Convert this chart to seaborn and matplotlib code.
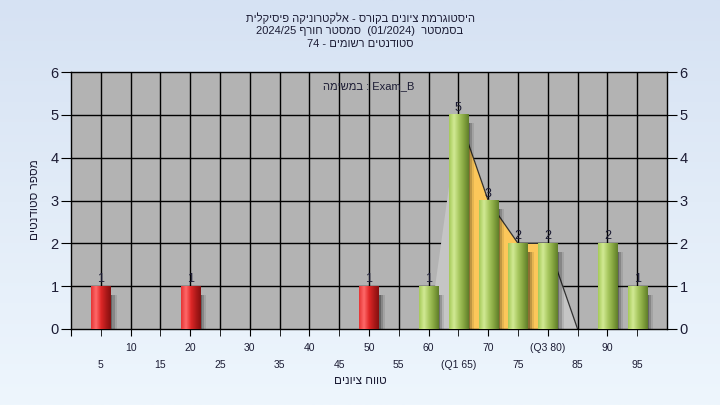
import re
import numpy as np
import pandas as pd
import seaborn as sb
import matplotlib.pyplot as plt
from matplotlib.colors import LinearSegmentedColormap, to_rgb

# ---- data ----
scores = [5, 20, 50, 60, 65, 70, 75, 80, 90, 95]
counts = [1, 1, 1, 1, 5, 3, 2, 2, 2, 1]
band = ['fail', 'fail', 'fail', 'pass', 'pass', 'pass', 'pass', 'pass', 'pass', 'pass']

# outline of the distribution area (grey) and the Q1-Q3 part (yellow)
area_x = [60, 65, 70, 75, 80, 85]
area_y = [0, 5, 3, 2, 2, 0]
q1, q3 = 65, 80

major_ticks = [0, 10, 20, 30, 40, 50, 60, 70, 80, 90]
major_labels = ['', '10', '20', '30', '40', '50', '60', '70', '(Q3 80)', '90']
minor_ticks = [5, 15, 25, 35, 45, 55, 65, 75, 85, 95]
minor_labels = ['5', '15', '25', '35', '45', '55', '(Q1 65)', '75', '85', '95']

title_lines = ['היסטוגרמת ציונים בקורס - אלקטרוניקה פיסיקלית',
               'בסמסטר  (01/2024)  סמסטר חורף 2024/25',
               'סטודנטים רשומים - 74']
exam_text = 'Exam_B : במשימה'
x_title = 'טווח ציונים'
y_title = 'מספר סטודנטים'


def rtl(s):
    # poor man's bidi: flip the line, keep latin/number runs readable
    r = s[::-1]
    r = re.sub(r'[0-9A-Za-z_./]+', lambda m: m.group(0)[::-1], r)
    return r.translate(str.maketrans('()', ')('))


plt.rcParams['font.family'] = ['Liberation Sans', 'DejaVu Sans']
ink = '#1c1c34'

fig = plt.figure(figsize=(7.2, 4.05), dpi=100)

# light blue gradient behind everything
bg = fig.add_axes([0, 0, 1, 1], zorder=-10)
bg_cmap = LinearSegmentedColormap.from_list('bg', ['#d6e2f3', '#eef6fd'])
bg.imshow(np.linspace(0, 1, 256).reshape(-1, 1), cmap=bg_cmap, aspect='auto', extent=[0, 1, 0, 1])
bg.axis('off')

ax = fig.add_axes([71 / 720, 1 - 329 / 405, 596 / 720, 257 / 405])
ax.set_facecolor('#b3b3b3')

df = pd.DataFrame({'score': scores, 'count': counts, 'band': band})
sb.barplot(data=df, x='score', y='count', hue='band', native_scale=True, dodge=False,
           width=0.64, palette={'fail': '#e02828', 'pass': '#a8c860'}, legend=False,
           saturation=1, ax=ax, zorder=3)

# grid
for gx in range(5, 100, 5):
    ax.axvline(gx, color='black', lw=1, zorder=0.5)
for gy in range(1, 6):
    ax.axhline(gy, color='black', lw=1, zorder=0.5)

# areas
ax.fill_between(area_x, area_y, color='#c5c5c5', lw=0, zorder=1)
ax.plot(area_x[1:], area_y[1:], color='#303030', lw=0.9, zorder=1.2)
ax_arr = np.array(area_x)
ay_arr = np.array(area_y)
m = (ax_arr >= q1) & (ax_arr <= q3)
ax.fill_between(ax_arr[m], ay_arr[m], color='#fcc75a', lw=0, zorder=1.1)

# cylinder-ish gradient bars with a soft shadow
grads = {
    'fail': ['#e63434', '#ff6a6a', '#e02828', '#b01a1a', '#861010'],
    'pass': ['#a6ca58', '#d2ea95', '#a8c860', '#86a640', '#5f7d2a'],
}
for p in ax.patches:
    x0, w, h = p.get_x(), p.get_width(), p.get_height()
    kind = 'fail' if to_rgb(p.get_facecolor())[1] < 0.4 else 'pass'
    for k, a in enumerate([0.25, 0.17, 0.09]):
        ax.add_patch(plt.Rectangle((x0 + w, 0), 0.35 * (k + 1), max(h - 0.2, 0),
                                   color='black', alpha=a, lw=0, zorder=2))
    cm = LinearSegmentedColormap.from_list('g', grads[kind])
    ax.imshow(np.linspace(0, 1, 64).reshape(1, -1), cmap=cm, aspect='auto',
              extent=[x0, x0 + w, 0, h], zorder=3.1, interpolation='bilinear')
    ax.text(x0 + w / 2, h + 0.02, str(int(h)), ha='center', va='bottom',
            fontsize=9, color=ink, zorder=4)

ax.set_xlim(0, 100)
ax.set_ylim(0, 6)
ax.set_yticks(range(0, 7))
ax.set_xticks(major_ticks, major_labels)
ax.set_xticks(minor_ticks, minor_labels, minor=True)
ax.tick_params(axis='x', which='both', direction='out', length=5, color='black',
               labelsize=7.5, labelcolor=ink)
ax.tick_params(axis='x', which='major', pad=5)
ax.tick_params(axis='x', which='minor', pad=17)
ax.tick_params(axis='y', left=True, right=True, labelleft=True, labelright=True,
               direction='out', length=7, labelsize=10.5, labelcolor=ink, pad=2)
for s in ax.spines.values():
    s.set_color('black')
    s.set_linewidth(1)
ax.set_xlabel('')
ax.set_ylabel('')

ax.text(0.5, 0.945, rtl(exam_text), transform=ax.transAxes, ha='center', va='center',
        fontsize=8, color=ink)

for i, line in enumerate(title_lines):
    fig.text(0.5, 1 - (18 + 13 * i) / 405, rtl(line), ha='center', va='center',
             fontsize=8, color=ink)
fig.text(0.5, 1 - 381 / 405, rtl(x_title), ha='center', va='center', fontsize=8.5, color=ink)
fig.text(35 / 720, 1 - 200 / 405, rtl(y_title), ha='center', va='center', rotation=90,
         fontsize=8.5, color=ink)

fig.savefig('out.png', dpi=100)
